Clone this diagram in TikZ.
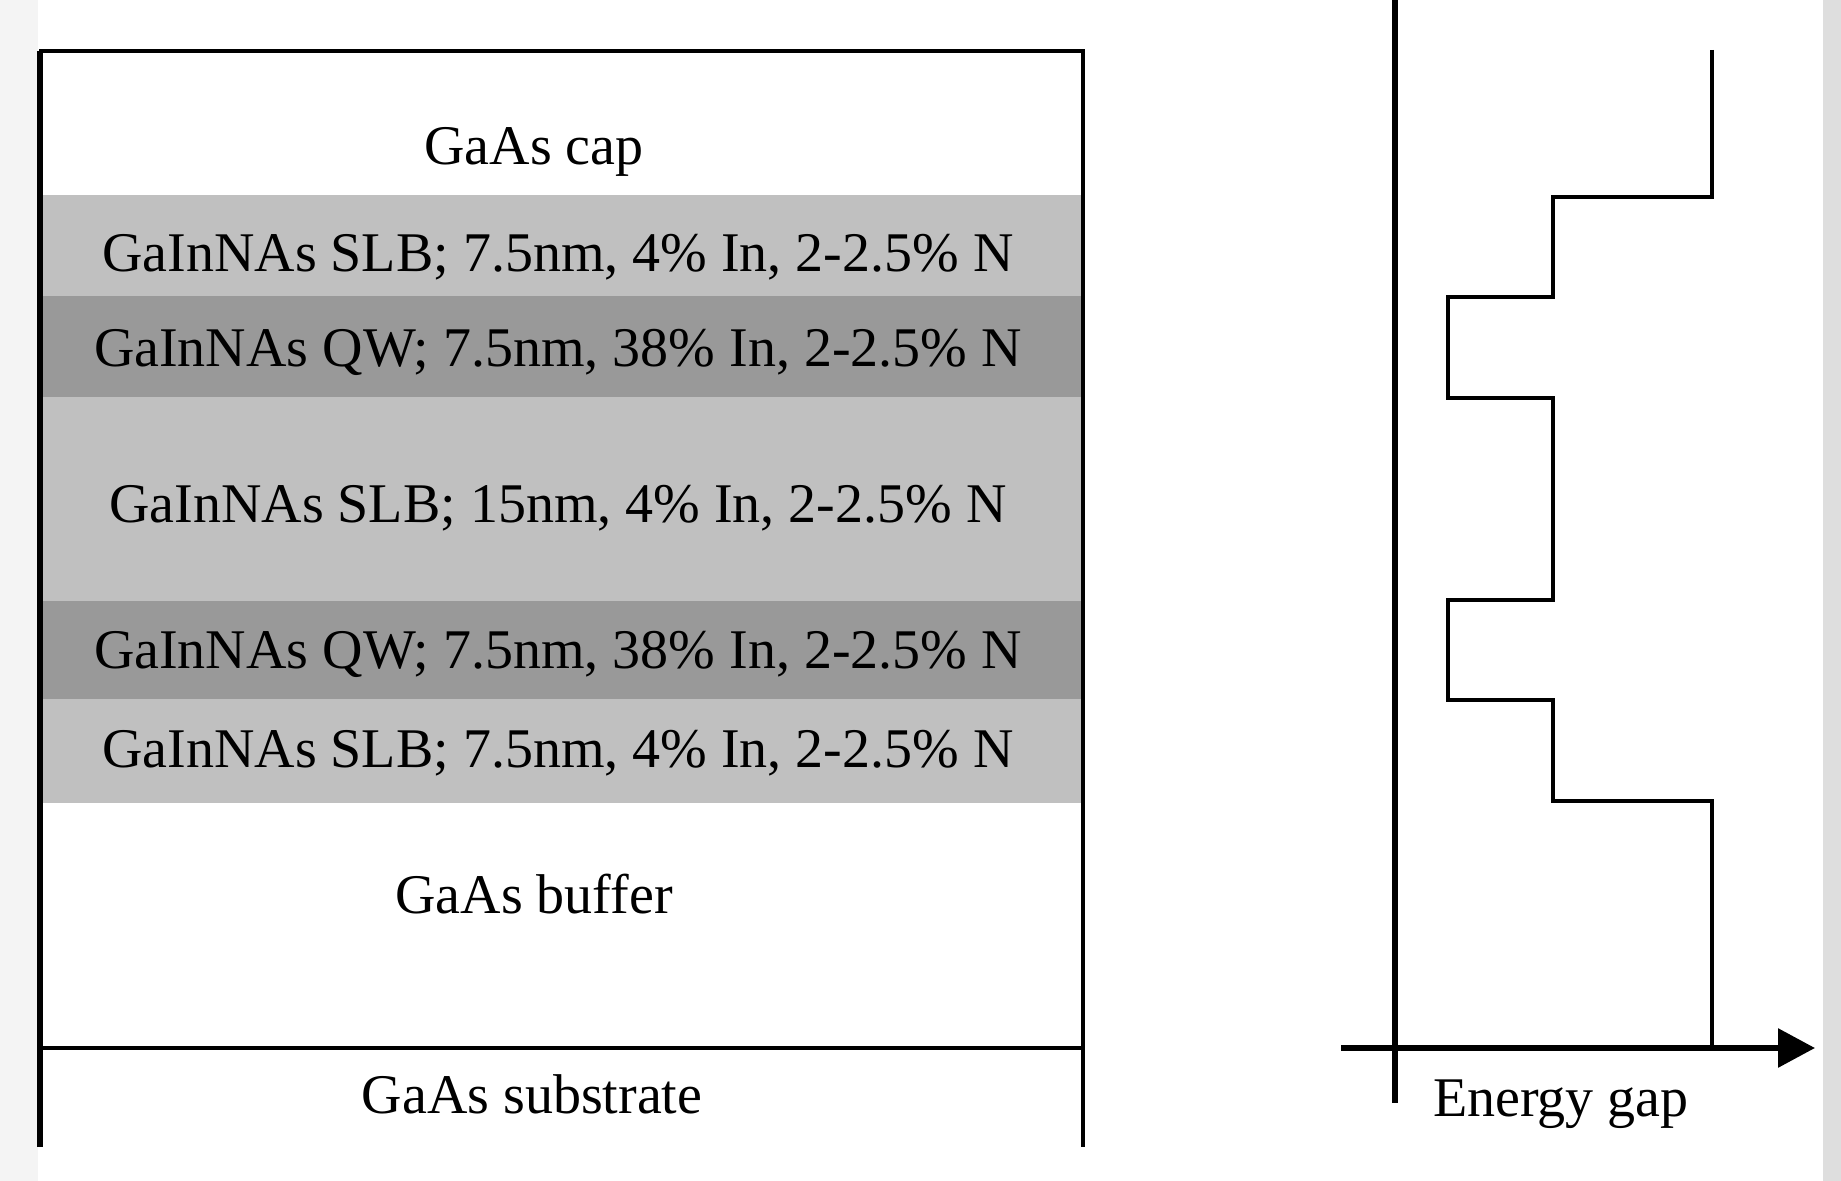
\documentclass[tikz,border=0pt]{standalone}
\usepackage{fontspec}
\setmainfont{Liberation Serif}
\usetikzlibrary{arrows.meta}

\definecolor{edgeL}{HTML}{F4F4F4}
\definecolor{edgeR}{HTML}{DEDEDE}
\definecolor{slbgray}{HTML}{C0C0C0}
\definecolor{qwgray}{HTML}{999999}

\tikzset{
  frameline/.style={line width=2pt, black},
  axisline/.style={line width=3pt, black},
  profile/.style={line width=1.8pt, black, line join=miter},
  layertext/.style={anchor=base, inner sep=0pt, font=\fontsize{28}{34}\selectfont},
}

\begin{document}
\begin{tikzpicture}[x=0.5pt, y=-0.5pt]
  % canvas
  \useasboundingbox (0,0) rectangle (1841,1181);
  \fill[white] (0,0) rectangle (1841,1181);
  \fill[edgeL] (0,0) rectangle (38,1181);
  \fill[edgeR] (1823,0) rectangle (1841,1181);

  % epitaxial stack: barrier and well fills
  \fill[slbgray] (43,195) rectangle (1081,296);
  \fill[qwgray]  (43,296) rectangle (1081,397);
  \fill[slbgray] (43,397) rectangle (1081,601);
  \fill[qwgray]  (43,601) rectangle (1081,699);
  \fill[slbgray] (43,699) rectangle (1081,803);

  % outer frame, open at the substrate bottom
  \coordinate (fbl) at (41,1147);
  \coordinate (ftl) at (41,51);
  \coordinate (ftr) at (1083,51);
  \coordinate (fbr) at (1083,1147);
  \draw[frameline] (fbl) -- (ftl) -- (ftr) -- (fbr);
  \draw[line width=3pt] (40,51) -- (40,1147);
  \coordinate (subL) at (41,1048);
  \coordinate (subR) at (1083,1048);
  \draw[frameline] (subL) -- (subR);

  % layer labels
  \node[layertext] (cap)  at (534,165)  {GaAs cap};
  \node[layertext] (slb1) at (558,272)  {GaInNAs SLB; 7.5nm, 4\% In, 2-2.5\% N};
  \node[layertext] (qw1)  at (558,367)  {GaInNAs QW; 7.5nm, 38\% In, 2-2.5\% N};
  \node[layertext] (slb2) at (558,523)  {GaInNAs SLB; 15nm, 4\% In, 2-2.5\% N};
  \node[layertext] (qw2)  at (558,668)  {GaInNAs QW; 7.5nm, 38\% In, 2-2.5\% N};
  \node[layertext] (slb3) at (558,767)  {GaInNAs SLB; 7.5nm, 4\% In, 2-2.5\% N};
  \node[layertext] (buf)  at (534,913)  {GaAs buffer};
  \node[layertext] (sub)  at (532,1113) {GaAs substrate};

  % band-gap axes
  \coordinate (ytop) at (1395,0);
  \coordinate (ybot) at (1395,1103);
  \coordinate (xleft) at (1341,1048);
  \coordinate (xright) at (1815,1048);
  \draw[axisline] (ytop) -- (ybot);
  \draw[axisline, -{Triangle[length=18.5pt, width=19pt]}] (xleft) -- (xright);
  \node[layertext] (egap) at (1561,1116) {Energy gap};

  % energy gap profile through the stack
  \draw[profile] (1712,50) -- (1712,197) -- (1553,197) -- (1553,297)
    -- (1448,297) -- (1448,398) -- (1553,398) -- (1553,600)
    -- (1448,600) -- (1448,700) -- (1553,700) -- (1553,801)
    -- (1712,801) -- (1712,1048);
\end{tikzpicture}
\end{document}
